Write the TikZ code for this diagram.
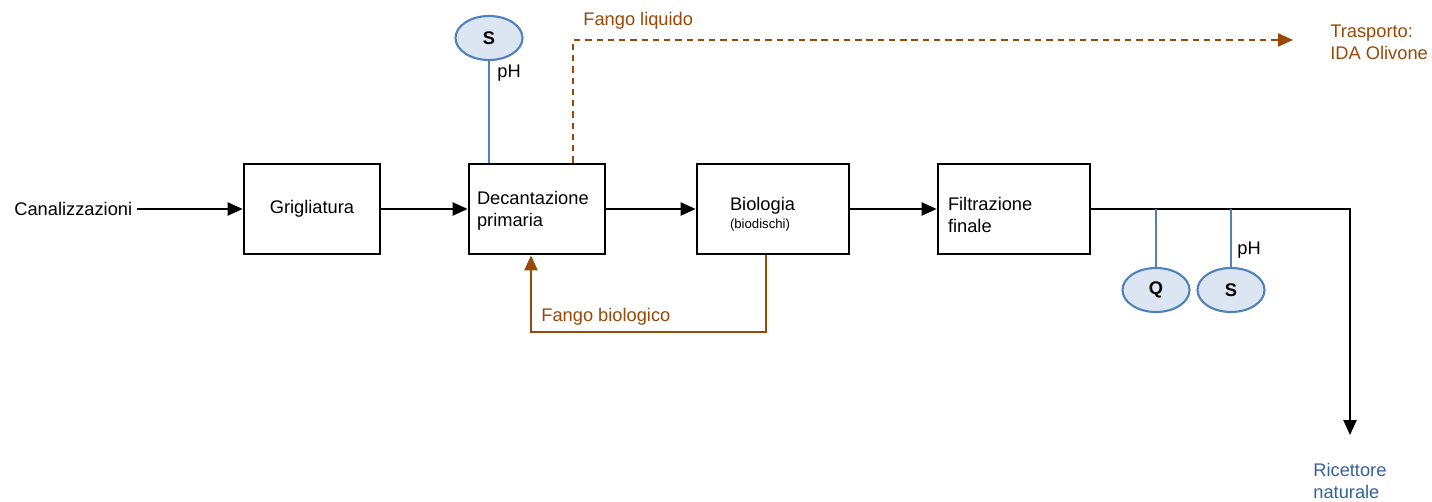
\documentclass[tikz,border=0pt]{standalone}
\usepackage{fontspec}
\setmainfont{Liberation Sans}
\usepackage{xcolor}
\usepackage{tikz}
\usetikzlibrary{arrows.meta,shapes.geometric}
\definecolor{sludge}{HTML}{984807}
\definecolor{probe}{HTML}{4F81BD}
\definecolor{probefill}{HTML}{DCE6F2}
\definecolor{river}{HTML}{36609A}
\newdimen\unitpx \unitpx=0.02cm
\tikzset{
  lab/.style={font=\fontsize{10.4}{12.5}\selectfont, inner sep=0pt},
  sludgeLab/.style={lab, text=sludge, align=left},
  stage/.style={draw, line width=1.6pt, minimum height=90\unitpx, lab, align=left},
  flow/.style={line width=0.9pt, -{Triangle[length=8.5pt,width=7.5pt]}},
  sludgeFlow/.style={flow, draw=sludge},
  probeLine/.style={line width=1.1pt, draw=probe},
  sensor/.style={ellipse, draw=probe, fill=probefill, line width=1.2pt,
    minimum width=67\unitpx, minimum height=44\unitpx, inner sep=0pt,
    font=\fontsize{10.4}{12.5}\selectfont\bfseries}
}
\begin{document}
\begin{tikzpicture}[x=0.02cm,y=-0.02cm]
\useasboundingbox (0,0) rectangle (1432,502);
% treatment line
\node[lab, anchor=west] (canal) at (14,209) {Canalizzazioni};
\node[stage, minimum width=136\unitpx, align=center] (grig) at (312,209) {Grigliatura};
\node[stage, minimum width=136\unitpx, text width=120\unitpx, inner xsep=8\unitpx] (dec) at (537,209)
  {\rule{0pt}{16\unitpx}Decantazione\\primaria};
\node[stage, minimum width=152\unitpx, text width=86\unitpx, inner xsep=33\unitpx] (bio) at (773,209)
  {\rule{0pt}{24\unitpx}Biologia\\[-2pt]{\fontsize{7.5}{9}\selectfont(biodischi)}};
\node[stage, minimum width=152\unitpx, text width=132\unitpx, inner xsep=10\unitpx] (filt) at (1014,209)
  {\rule{0pt}{26\unitpx}Filtrazione\\finale};
\draw[flow] ([xshift=4\unitpx]canal.east) -- (grig.west);
\draw[flow] (grig.east) -- (dec.west);
\draw[flow] (dec.east) -- (bio.west);
\draw[flow] (bio.east) -- (filt.west);

% outlet
\coordinate (turn) at (1350,209);
\node[lab, anchor=north west, text=river, align=left] (ricet) at (1313,463) {Ricettore\\naturale};
\draw[flow] (filt.east) -- (turn) -- (1350,435);

% sensors
\node[sensor] (sTop) at (489,38) {S};
\node[sensor] (qOut) at (1156,290) {Q};
\node[sensor] (sOut) at (1231,290) {S};
\draw[probeLine] (sTop.south) -- (sTop.south |- dec.north);
\draw[probeLine] (qOut.north |- filt.east) -- (qOut.north);
\draw[probeLine] (sOut.north |- filt.east) -- (sOut.north);
\node[lab, anchor=west] (phTop) at (497,73) {pH};
\node[lab, anchor=west] (phOut) at (1237,250) {pH};

% liquid sludge
\coordinate (liqUp) at (573,40);
\coordinate (liqEnd) at (1293,40);
\draw[sludgeFlow, dash pattern=on 3.6pt off 2.8pt] (liqUp |- dec.north) -- (liqUp) -- (liqEnd);
\node[sludgeLab, anchor=west] (liqLab) at (583,21) {Fango liquido};
\node[sludgeLab, anchor=north west] (trasp) at (1330,25) {Trasporto:\\IDA Olivone};

% biological sludge
\coordinate (bioLow) at (766,332);
\coordinate (decLow) at (531,332);
\draw[sludgeFlow] (bioLow |- bio.south) -- (bioLow) -- (decLow) -- (decLow |- dec.south);
\node[sludgeLab, anchor=west] (bioLab) at (541,317) {Fango biologico};
\end{tikzpicture}
\end{document}
